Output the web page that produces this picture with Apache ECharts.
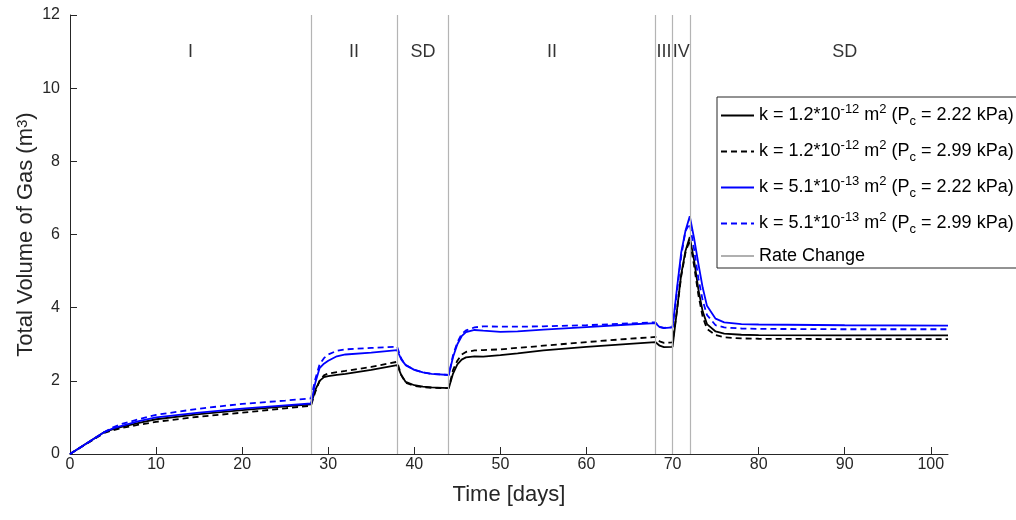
<!DOCTYPE html>
<html>
<head>
<meta charset="utf-8">
<script src="https://cdn.jsdelivr.net/npm/echarts@6/dist/echarts.min.js"></script>
<style>html,body{margin:0;padding:0;background:#fff}#c{width:1016px;height:520px}</style>
</head>
<body>
<div id="c"></div>
<script>
const days = [0,4,5,6,8,10,15,20,25,28,28.5,29,29.5,30,31,32,35,38,38.5,39,40,41,42,44,44.5,45,45.5,46,47,48,50,52,55,60,65,68,68.5,69,70,70.5,71,71.5,72,72.5,73,73.5,74,75,76,78,80,90,102];
const blackSolid = [0,0.6,0.68,0.74,0.85,0.95,1.09,1.2,1.3,1.36,1.75,2.0,2.1,2.13,2.16,2.19,2.3,2.43,2.15,1.97,1.88,1.84,1.82,1.8,2.2,2.45,2.58,2.64,2.67,2.66,2.7,2.75,2.83,2.93,3.01,3.06,2.96,2.92,2.93,3.9,4.9,5.55,5.93,5.3,4.5,3.9,3.55,3.35,3.29,3.26,3.25,3.24,3.24];
const blackDashed = [0,0.58,0.65,0.71,0.8,0.88,1.02,1.13,1.25,1.32,1.7,2.0,2.15,2.2,2.24,2.27,2.38,2.52,2.15,1.95,1.86,1.83,1.81,1.8,2.3,2.55,2.72,2.79,2.83,2.84,2.86,2.9,2.96,3.06,3.15,3.2,3.08,3.04,3.05,3.9,4.85,5.5,5.85,5.15,4.35,3.75,3.42,3.25,3.19,3.16,3.15,3.14,3.14];
const blueSolid = [0,0.6,0.7,0.77,0.9,1.0,1.13,1.24,1.33,1.38,1.95,2.35,2.47,2.55,2.67,2.72,2.77,2.84,2.58,2.43,2.3,2.23,2.19,2.16,2.65,3.0,3.22,3.33,3.39,3.37,3.34,3.35,3.4,3.47,3.54,3.58,3.47,3.44,3.46,4.5,5.5,6.1,6.5,5.9,5.2,4.55,4.05,3.7,3.6,3.55,3.54,3.52,3.51];
const blueDashed = [0,0.6,0.73,0.82,0.95,1.07,1.24,1.37,1.46,1.52,2.05,2.45,2.62,2.72,2.82,2.86,2.9,2.93,2.6,2.43,2.3,2.23,2.19,2.16,2.7,3.05,3.28,3.38,3.46,3.49,3.48,3.48,3.49,3.52,3.57,3.6,3.48,3.45,3.47,4.4,5.4,6.1,6.3,5.6,4.8,4.2,3.8,3.52,3.46,3.43,3.42,3.41,3.41];
const rateChanges = [28,38,44,68,70,72];
const phaseNames = ['I','II','SD','II','III','IV','SD'];
const phaseX = [14,33,41,56,69,71,90];
const phaseY = 11;
const seriesNames = [
  'k = 1.2*10{sup|-12} m{sup|2} (P{sub|c} = 2.22 kPa)',
  'k = 1.2*10{sup|-12} m{sup|2} (P{sub|c} = 2.99 kPa)',
  'k = 5.1*10{sup|-13} m{sup|2} (P{sub|c} = 2.22 kPa)',
  'k = 5.1*10{sup|-13} m{sup|2} (P{sub|c} = 2.99 kPa)'
];
const rateName = 'Rate Change';

const zip = ys => days.map((d,i)=>[d, ys[i]]);
const txt = '#262626';
const font = 'Liberation Sans, Arial, Helvetica, sans-serif';

function lineSeries(name, ys, color, dashed) {
  return {
    name, type: 'line', data: zip(ys), showSymbol: false, symbol: 'none', smooth: false,
    color, lineStyle: { color, width: 1.8, type: dashed ? [6,4] : 'solid' },
    itemStyle: { color }, animation: false, z: 3
  };
}

const chart = echarts.init(document.getElementById('c'), null, { renderer: 'canvas' });
chart.setOption({
  animation: false,
  backgroundColor: '#fff',
  textStyle: { fontFamily: font },
  grid: { left: 70, right: 68, top: 15, bottom: 66, containLabel: false },
  xAxis: {
    type: 'value', min: 0, max: 102, interval: 10,
    name: 'Time [days]', nameLocation: 'middle', nameGap: 30,
    nameTextStyle: { fontSize: 22, color: txt, fontFamily: font },
    axisLine: { lineStyle: { color: txt, width: 1 } },
    axisTick: { inside: true, length: 7, lineStyle: { color: txt } },
    axisLabel: { fontSize: 16, color: txt, margin: 3, fontFamily: font, showMaxLabel: false },
    splitLine: { show: false }
  },
  yAxis: {
    type: 'value', min: 0, max: 12, interval: 2,
    name: 'Total Volume of Gas (m{sup|3})', nameLocation: 'middle', nameGap: 33, nameMoveOverlap: false,
    nameTextStyle: { fontSize: 22, color: txt, fontFamily: font,
      rich: { sup: { fontSize: 15, color: txt, fontFamily: font, verticalAlign: 'top', lineHeight: 12 } } },
    axisLine: { show: true, lineStyle: { color: txt, width: 1 } },
    axisTick: { show: true, inside: true, length: 7, lineStyle: { color: txt } },
    axisLabel: { fontSize: 16, color: txt, margin: 10, fontFamily: font },
    splitLine: { show: false }
  },
  legend: {
    orient: 'vertical', left: 717, top: 97,
    data: seriesNames.concat([rateName]),
    backgroundColor: '#fff', borderColor: '#262626', borderWidth: 1, borderRadius: 0,
    padding: [6, 4, 3, 3], itemGap: 11, itemWidth: 33, itemHeight: 14,
    itemStyle: { opacity: 0 },
    formatter: n => n === rateName ? '{r|' + n + '}' : '{n|' + n.replace(/\{sup\|([^}]*)\}/g,'}{sup|$1}{n|').replace(/\{sub\|([^}]*)\}/g,'}{sub|$1}{n|') + '}',
    textStyle: {
      color: '#000', fontSize: 18, fontFamily: font,
      rich: {
        n: { fontSize: 18, lineHeight: 25, color: '#000', fontFamily: font, verticalAlign: 'middle' },
        sup: { fontSize: 13, lineHeight: 12, color: '#000', fontFamily: font, verticalAlign: 'top' },
        sub: { fontSize: 13, lineHeight: 12, color: '#000', fontFamily: font, verticalAlign: 'bottom' },
        r: { fontSize: 18, lineHeight: 14, color: '#000', fontFamily: font }
      }
    }
  },
  series: [
    {
      name: rateName, type: 'line', data: [], color: '#b0b0b0', showSymbol: false, symbol: 'none',
      lineStyle: { color: '#b0b0b0', width: 1 }, itemStyle: { color: '#b0b0b0' }, z: 1,
      markLine: {
        silent: true, symbol: ['none','none'], animation: false,
        label: { show: false },
        lineStyle: { color: '#b4b4b4', width: 1.2, type: 'solid' },
        data: rateChanges.map(x => ({ xAxis: x }))
      }
    },
    {
      name: 'phases', type: 'scatter', symbolSize: 0, silent: true, z: 2,
      data: phaseX.map((x,i)=>({ value: [x, phaseY], label: { formatter: phaseNames[i] } })),
      label: { show: true, position: 'inside', fontSize: 18, color: '#000', fontFamily: font }
    },
    lineSeries(seriesNames[0], blackSolid, '#000000', false),
    lineSeries(seriesNames[1], blackDashed, '#000000', true),
    lineSeries(seriesNames[2], blueSolid, '#0000ff', false),
    lineSeries(seriesNames[3], blueDashed, '#0000ff', true)
  ]
});
</script>
</body>
</html>
